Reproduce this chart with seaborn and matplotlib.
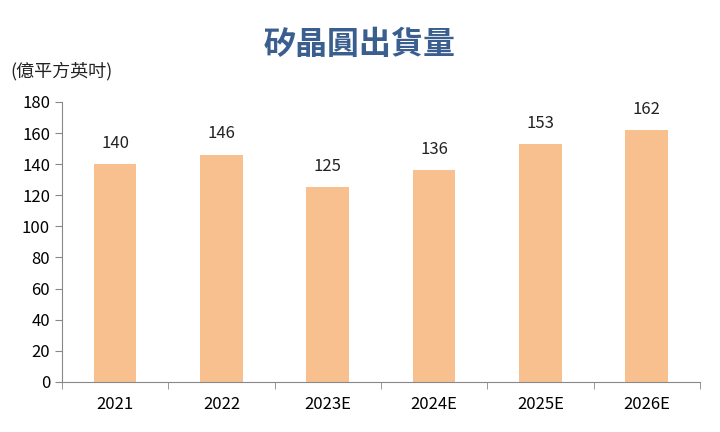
import matplotlib
matplotlib.use("Agg")
import matplotlib.pyplot as plt
import seaborn as sns
import pandas as pd
import numpy as np

categories = ["2021", "2022", "2023E", "2024E", "2025E", "2026E"]
values = [140, 146, 125, 136, 153, 162]
yticks = [0, 20, 40, 60, 80, 100, 120, 140, 160, 180]

plt.rcParams["font.family"] = ["Noto Sans CJK TC", "DejaVu Sans"]
df = pd.DataFrame({"cat": categories, "val": values})

fig = plt.figure(figsize=(7.2, 4.32), dpi=100)
ax = fig.add_axes([0.086, 0.116, 0.886, 0.648])
sns.barplot(data=df, x="cat", y="val", color="#F9C08F", saturation=1, width=0.4, ax=ax)
for i, v in enumerate(values):
    ax.text(i, v + 8, str(v), ha="center", va="bottom", fontsize=12, color="#222222")
ax.set_ylim(0, 180)
ax.set_yticks(yticks)
ax.set_xlim(-0.5, len(categories) - 0.5)
ax.set_xlabel("")
ax.set_ylabel("")
ax.set_xticks(np.arange(-0.5, len(categories)), minor=True)
ax.tick_params(axis="x", which="major", length=0, labelsize=12, pad=10)
ax.tick_params(axis="x", which="minor", length=5, color="#888888")
ax.tick_params(axis="y", labelsize=12, length=5, color="#888888")
for s in ["top", "right"]:
    ax.spines[s].set_visible(False)
for s in ["left", "bottom"]:
    ax.spines[s].set_color("#888888")
fig.text(0.5, 0.895, "矽晶圓出貨量", ha="center", va="center", fontsize=23, fontweight="bold", color="#3A5F8F")
fig.text(0.015, 0.835, "(億平方英吋)", ha="left", va="center", fontsize=13, color="#222222")
fig.savefig("out.png", dpi=100)
